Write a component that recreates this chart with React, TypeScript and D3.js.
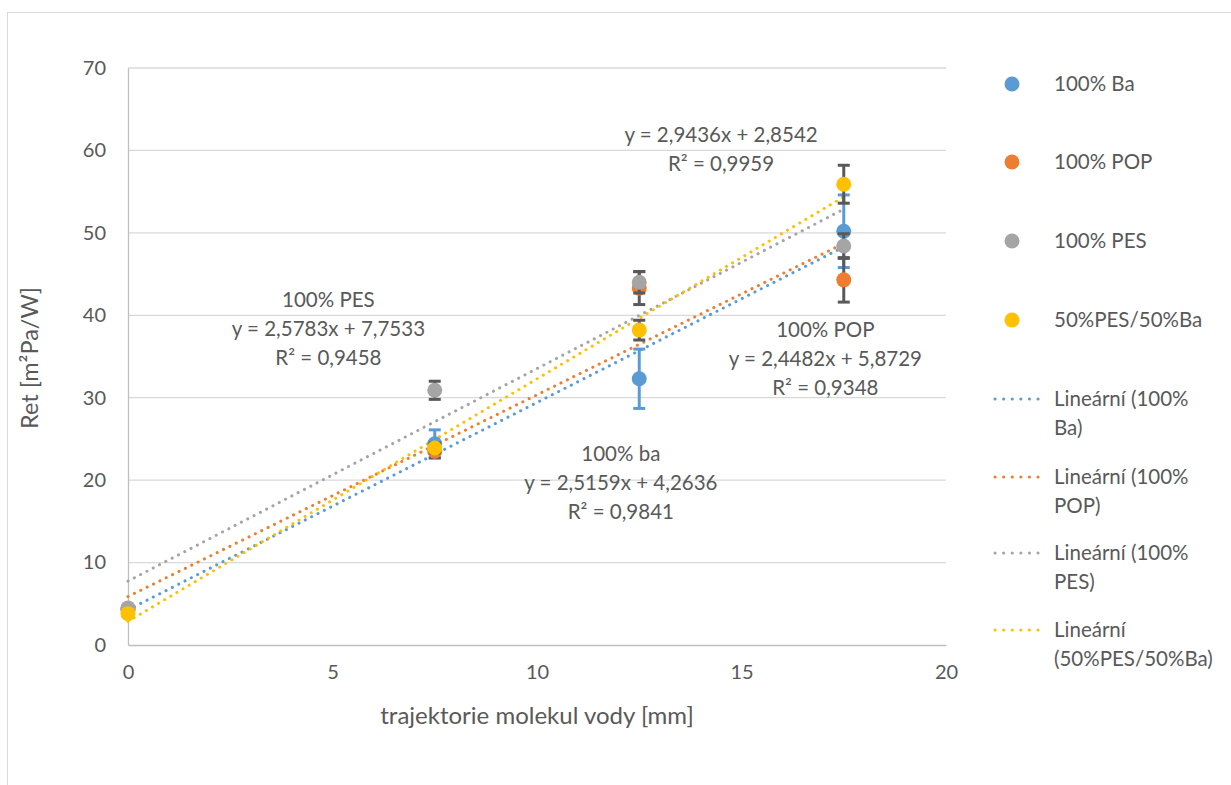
import { useEffect, useRef } from 'react';
import * as d3 from 'd3';

// trajectory positions [mm]
const xValues = [0, 7.5, 12.5, 17.5];

const seriesNames = ['100% Ba', '100% POP', '100% PES', '50%PES/50%Ba'];
const seriesColors = ['#5B9BD5', '#ED7D31', '#A5A5A5', '#FFC000'];

// Ret values
const baValues = [4.3, 24.4, 32.3, 50.2];
const popValues = [4.3, 23.5, 43.3, 44.3];
const pesValues = [4.5, 30.9, 44.0, 48.4];
const mixValues = [3.8, 23.9, 38.2, 55.9];

// symmetric error bar half-widths
const baErrors = [0, 1.7, 3.6, 4.4];
const popErrors = [0, 0.8, 2.0, 2.7];
const pesErrors = [0, 1.1, 1.3, 1.5];
const mixErrors = [0, 0.6, 1.2, 2.3];

// linear trend coefficients (from the chart labels)
const slopes = [2.5159, 2.4482, 2.5783, 2.9436];
const intercepts = [4.2636, 5.8729, 7.7533, 2.8542];

const trendLabels = [
  ['100% ba', 'y = 2,5159x + 4,2636', 'R² = 0,9841'],
  ['100% POP', 'y = 2,4482x + 5,8729', 'R² = 0,9348'],
  ['100% PES', 'y = 2,5783x + 7,7533', 'R² = 0,9458'],
  ['y = 2,9436x + 2,8542', 'R² = 0,9959'],
];
// label anchor positions in data units (x, y of first line)
const trendLabelPos = [
  [12.05, 22.3],
  [17.05, 37.4],
  [4.9, 41.0],
  [14.5, 61.0],
];

const legendLineLabels = [
  ['Lineární (100%', 'Ba)'],
  ['Lineární (100%', 'POP)'],
  ['Lineární (100%', 'PES)'],
  ['Lineární', '(50%PES/50%Ba)'],
];

const xTicks = [0, 5, 10, 15, 20];
const yTicks = [0, 10, 20, 30, 40, 50, 60, 70];

const FONT = 'Lato, "Open Sans", sans-serif';
const TEXT = '#595959';

const App = () => {
  const svgRef = useRef<SVGSVGElement>(null);

  useEffect(() => {
    const svg = d3.select(svgRef.current);
    svg.selectAll('*').remove();

    const W = 1231;
    const H = 785;
    svg.attr('width', W).attr('height', H);

    svg.append('rect')
      .attr('x', 7.5).attr('y', 12.5)
      .attr('width', 1300).attr('height', 900)
      .attr('fill', '#fff')
      .attr('stroke', '#D9D9D9');

    const x = d3.scaleLinear().domain([0, 20]).range([128, 946]);
    const y = d3.scaleLinear().domain([0, 70]).range([645, 68]);

    // gridlines
    svg.append('g')
      .selectAll('line')
      .data(yTicks.filter(d => d > 0))
      .join('line')
      .attr('x1', x(0)).attr('x2', x(20))
      .attr('y1', d => y(d)).attr('y2', d => y(d))
      .attr('stroke', '#D9D9D9').attr('stroke-width', 1.3);

    // axes
    const xAxis = svg.append('g')
      .attr('transform', `translate(0,${y(0)})`)
      .call(d3.axisBottom(x).tickValues(xTicks).tickSize(0).tickPadding(20).tickFormat(d3.format('d')));
    xAxis.select('.domain').attr('stroke', '#BFBFBF').attr('stroke-width', 1.3);

    const yAxis = svg.append('g')
      .attr('transform', `translate(${x(0)},0)`)
      .call(d3.axisLeft(y).tickValues(yTicks).tickSize(0).tickPadding(22).tickFormat(d3.format('d')));
    yAxis.select('.domain').attr('stroke', '#BFBFBF').attr('stroke-width', 1.3);

    svg.selectAll('.tick text')
      .attr('fill', TEXT)
      .style('font-family', FONT)
      .style('font-size', '20px');

    // axis titles
    svg.append('text')
      .attr('x', 537).attr('y', 724)
      .attr('text-anchor', 'middle')
      .attr('fill', TEXT)
      .style('font-family', FONT).style('font-size', '24px')
      .text('trajektorie molekul vody [mm]');

    svg.append('text')
      .attr('transform', `translate(38,358) rotate(-90)`)
      .attr('text-anchor', 'middle')
      .attr('fill', TEXT)
      .style('font-family', FONT).style('font-size', '23.5px')
      .text('Ret [m²Pa/W]');

    // trend lines
    slopes.forEach((s, i) => {
      const line = d3.line<number>()
        .x(d => x(d))
        .y(d => y(s * d + intercepts[i]));
      svg.append('path')
        .datum([0, 17.5])
        .attr('d', line)
        .attr('fill', 'none')
        .attr('stroke', seriesColors[i])
        .attr('stroke-width', 3)
        .attr('stroke-linecap', 'round')
        .attr('stroke-dasharray', '0.1 7');
    });

    // series with error bars
    const allValues = [baValues, popValues, pesValues, mixValues];
    const allErrors = [baErrors, popErrors, pesErrors, mixErrors];

    allValues.forEach((vals, i) => {
      const g = svg.append('g');
      const errColor = i === 0 ? seriesColors[0] : '#595959';
      vals.forEach((v, j) => {
        const e = allErrors[i][j];
        if (e <= 0) return;
        const cx = x(xValues[j]);
        g.append('line')
          .attr('x1', cx).attr('x2', cx)
          .attr('y1', y(v - e)).attr('y2', y(v + e))
          .attr('stroke', errColor).attr('stroke-width', 3);
        [v - e, v + e].forEach(c => {
          g.append('line')
            .attr('x1', cx - 6).attr('x2', cx + 6)
            .attr('y1', y(c)).attr('y2', y(c))
            .attr('stroke', errColor).attr('stroke-width', 3);
        });
      });
      g.selectAll('circle')
        .data(vals)
        .join('circle')
        .attr('cx', (_, j) => x(xValues[j]))
        .attr('cy', d => y(d))
        .attr('r', 7.5)
        .attr('fill', seriesColors[i]);
    });

    // trend equation labels
    trendLabels.forEach((lines, i) => {
      const [px, py] = trendLabelPos[i];
      const t = svg.append('text')
        .attr('x', x(px)).attr('y', y(py))
        .attr('text-anchor', 'middle')
        .attr('fill', TEXT)
        .style('font-family', FONT).style('font-size', '20.5px');
      lines.forEach((l, k) => {
        t.append('tspan')
          .attr('x', x(px))
          .attr('dy', k === 0 ? 0 : 29)
          .text(l);
      });
    });

    // legend
    const legend = svg.append('g');
    const rowY = [84, 162, 241, 320];
    seriesNames.forEach((name, i) => {
      legend.append('circle')
        .attr('cx', 1012).attr('cy', rowY[i])
        .attr('r', 7.5).attr('fill', seriesColors[i]);
      legend.append('text')
        .attr('x', 1054).attr('y', rowY[i] + 7)
        .attr('fill', TEXT)
        .style('font-family', FONT).style('font-size', '20.5px')
        .text(name);
    });

    const lineRowY = [399, 477, 553, 630];
    legendLineLabels.forEach((lines, i) => {
      legend.append('line')
        .attr('x1', 995).attr('x2', 1045)
        .attr('y1', lineRowY[i]).attr('y2', lineRowY[i])
        .attr('stroke', seriesColors[i])
        .attr('stroke-width', 3)
        .attr('stroke-linecap', 'round')
        .attr('stroke-dasharray', '0.1 8.5');
      const t = legend.append('text')
        .attr('x', 1054).attr('y', lineRowY[i] + 7)
        .attr('fill', TEXT)
        .style('font-family', FONT).style('font-size', '20.5px');
      lines.forEach((l, k) => {
        t.append('tspan').attr('x', 1054).attr('dy', k === 0 ? 0 : 29).text(l);
      });
    });
  }, []);

  return (
    <>
      <style>{'body{margin:0}'}</style>
      <svg ref={svgRef}></svg>
    </>
  );
};

export default App;
